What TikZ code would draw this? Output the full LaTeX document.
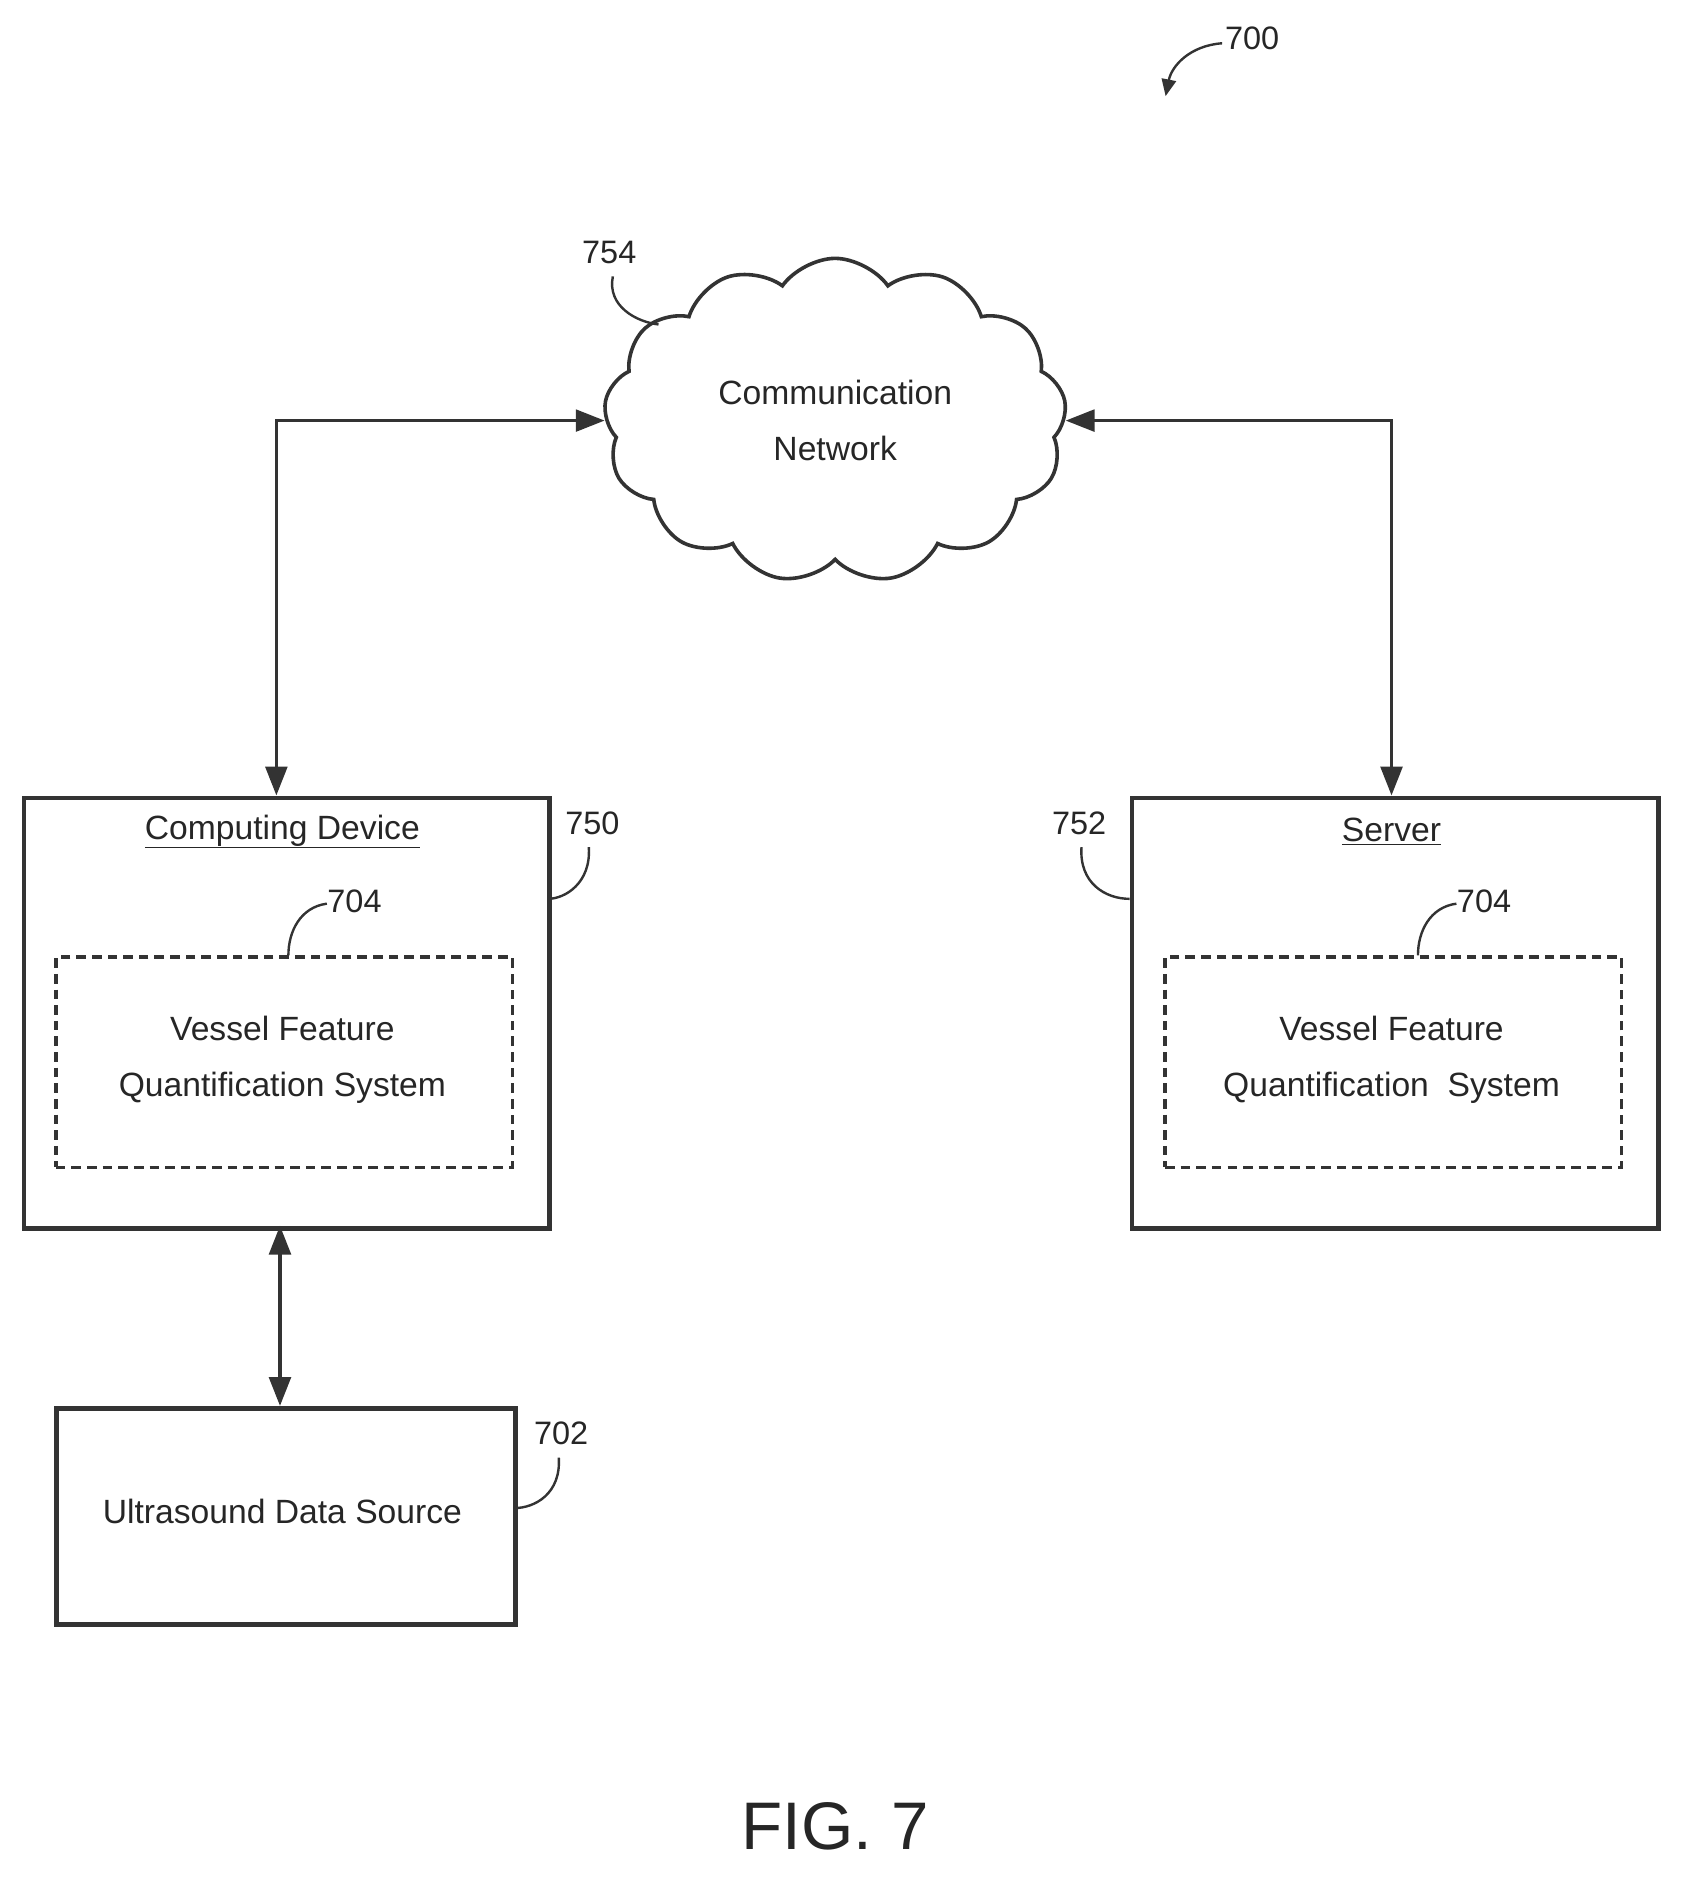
\documentclass[tikz,border=0pt]{standalone}
\usepackage{fontspec}
\setmainfont{Liberation Sans}
\usetikzlibrary{shapes.symbols,arrows.meta}
\begin{document}
\begin{tikzpicture}[x=1pt,y=-1pt,
  box/.style={draw=black!80,line width=4pt},
  dbox/.style={draw=black!80,line width=3pt,dash pattern=on 8pt off 5pt},
  conn/.style={draw=black!80,line width=3pt,{Triangle[length=24pt,width=18pt]}-{Triangle[length=24pt,width=18pt]}},
  lead/.style={draw=black!80,line width=2pt},
  txt/.style={font=\fontsize{28}{46}\selectfont,align=center,text=black!85},
  num/.style={font=\fontsize{27}{30}\selectfont,text=black!85}]
\useasboundingbox (0,0) rectangle (1400,1572);
% cloud
\node[cloud,cloud puffs=13,cloud puff arc=110,aspect=1.45,draw=black!80,line width=3pt,minimum width=385,minimum height=270] (net) at (695,350) {};
\node[txt] (nett) at (695,350) {Communication\\Network};
% boxes
\node[box,minimum width=437,minimum height=358,anchor=north west] (cd) at (18,662) {};
\node[box,minimum width=438,minimum height=358,anchor=north west] (sv) at (940,662) {};
\node[box,minimum width=382,minimum height=180,anchor=north west] (us) at (45,1170) {};
\node[dbox,minimum width=380,minimum height=175,anchor=north west] (d1) at (45,795) {};
\node[dbox,minimum width=380,minimum height=175,anchor=north west] (d2) at (968,795) {};
\node[txt] (cdt) at (235,692) {\underline{Computing Device}};
\node[txt] (svt) at (1158,692) {\underline{Server}};
\node[txt] (v1) at (235,882) {Vessel Feature\\Quantification System};
\node[txt] (v2) at (1158,882) {Vessel Feature\\Quantification\ \ System};
\node[txt] (ust) at (235,1258) {Ultrasound Data Source};
% connectors
\coordinate (l1) at (230,350); \coordinate (r1) at (1158,350);
\coordinate (l2) at (230,662); \coordinate (r2) at (1158,662);
\coordinate (c1) at (233,1020); \coordinate (c2) at (233,1170);
\draw[conn] (net.west|-l1) -- (l1) -- (l2);
\draw[conn] (net.east|-r1) -- (r1) -- (r2);
\draw[conn] (c1) -- (c2);
% labels
\node[num] (n700) at (1042,32) {700};
\draw[lead,-{Triangle[length=14pt,width=12pt]}] (1017,36) .. controls (990,38) and (975,55) .. (970,80);
\node[num] (n754) at (507,210) {754};
\draw[lead] (510,230) .. controls (505,255) and (530,268) .. (548,270);
\node[num] (n704a) at (295,750) {704};
\draw[lead] (272,752) .. controls (250,755) and (240,775) .. (240,795);
\node[num] (n704b) at (1235,750) {704};
\draw[lead] (1212,752) .. controls (1190,755) and (1180,775) .. (1180,795);
\node[num] (n750) at (493,685) {750};
\draw[lead] (490,705) .. controls (492,735) and (470,748) .. (456,748);
\node[num] (n752) at (898,685) {752};
\draw[lead] (900,705) .. controls (898,735) and (920,748) .. (940,748);
\node[num] (n702) at (467,1193) {702};
\draw[lead] (465,1213) .. controls (467,1243) and (445,1255) .. (428,1255);
\node[font=\fontsize{56}{60}\selectfont,text=black!85] (fig) at (695,1520) {FIG. 7};
\end{tikzpicture}
\end{document}
